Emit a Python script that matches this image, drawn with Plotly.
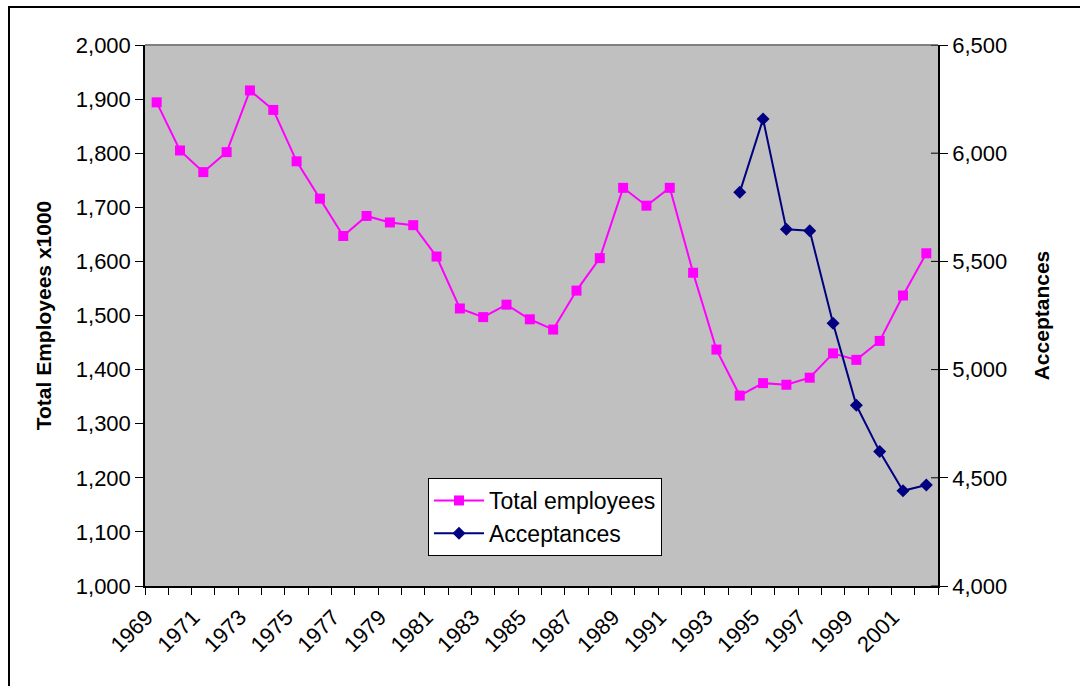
import plotly.graph_objects as go

years = [str(y) for y in range(1969, 2003)]
total_employees = [1894, 1805, 1765, 1802, 1916, 1880, 1785, 1716, 1647, 1684,
                   1672, 1667, 1609, 1513, 1497, 1520, 1493, 1474, 1546, 1606,
                   1736, 1703, 1736, 1579, 1437, 1352, 1375, 1372, 1385, 1430,
                   1418, 1453, 1537, 1615]
acc_years = [str(y) for y in range(1994, 2003)]
acceptances = [5819, 6158, 5648, 5642, 5214, 4835, 4621, 4440, 4467]

tick_text = [y if int(y) % 2 == 1 else "" for y in years]
left_ticks = list(range(1000, 2001, 100))
right_ticks = list(range(4000, 6501, 500))

FONT = "Liberation Sans, Arial, sans-serif"

fig = go.Figure()
fig.add_trace(go.Scatter(
    x=years, y=total_employees, name="Total employees", mode="lines+markers",
    line=dict(color="#FF00FF", width=2),
    marker=dict(symbol="square", size=10, color="#FF00FF"),
    yaxis="y"))
fig.add_trace(go.Scatter(
    x=acc_years, y=acceptances, name="Acceptances", mode="lines+markers",
    line=dict(color="#000080", width=2),
    marker=dict(symbol="diamond", size=10, color="#000080"),
    yaxis="y2"))

L, R, T, B = 145, 142, 45, 100
W, H = 1080, 686
pw, ph = W - L - R, H - T - B

shapes = [
    dict(type="line", xref="paper", yref="paper", x0=0, x1=1, y0=1, y1=1,
         line=dict(color="#808080", width=2), layer="below"),
    dict(type="rect", xref="paper", yref="paper",
         x0=(9 - L) / pw, x1=(W + 10 - L) / pw,
         y0=(H - B - (H + 10)) / ph, y1=(H - B - 7) / ph,
         line=dict(color="black", width=2), layer="below"),
]
# inner half of the crossing ticks on the right axis
for v in right_ticks:
    shapes.append(dict(type="line", xref="paper", yref="y2",
                       x0=1 - 7 / pw, x1=1, y0=v, y1=v,
                       line=dict(color="black", width=1)))

fig.update_layout(
    width=W, height=H,
    margin=dict(l=L, r=R, t=T, b=B, autoexpand=False),
    paper_bgcolor="white", plot_bgcolor="#C0C0C0",
    font=dict(family=FONT, size=21, color="black"),
    showlegend=True,
    legend=dict(x=(428 - L) / pw, y=(H - B - 478) / ph, xanchor="left", yanchor="top",
                bgcolor="white", bordercolor="black", borderwidth=1,
                font=dict(size=23), tracegroupgap=0, itemwidth=50),
    xaxis=dict(type="category", categoryorder="array", categoryarray=years,
               tickvals=years, ticktext=tick_text, tickangle=-45,
               tickson="boundaries", ticks="outside", ticklen=7, tickcolor="black",
               ticklabelshift=-10, ticklabelstandoff=8,
               tickfont=dict(size=22),
               showline=True, linecolor="black", linewidth=1.5,
               showgrid=False, zeroline=False, range=[-0.5, len(years) - 0.5]),
    yaxis=dict(range=[1000, 2000], tickvals=left_ticks, tickformat=",",
               ticks="outside", ticklen=8, tickcolor="black",
               tickfont=dict(size=22),
               showline=True, linecolor="black", linewidth=1.5,
               showgrid=False, zeroline=False,
               title=dict(text="<b>Total Employees x1000</b>", font=dict(size=21),
                          standoff=18)),
    yaxis2=dict(range=[4000, 6500], tickvals=right_ticks, tickformat=",",
                overlaying="y", side="right",
                ticks="outside", ticklen=8, tickcolor="black",
                tickfont=dict(size=22),
                showline=True, linecolor="black", linewidth=1.5,
                showgrid=False, zeroline=False,
                title=dict(text="<b>Acceptances</b>", font=dict(size=21),
                           standoff=28)),
    shapes=shapes,
)

fig.write_html("out.html")
